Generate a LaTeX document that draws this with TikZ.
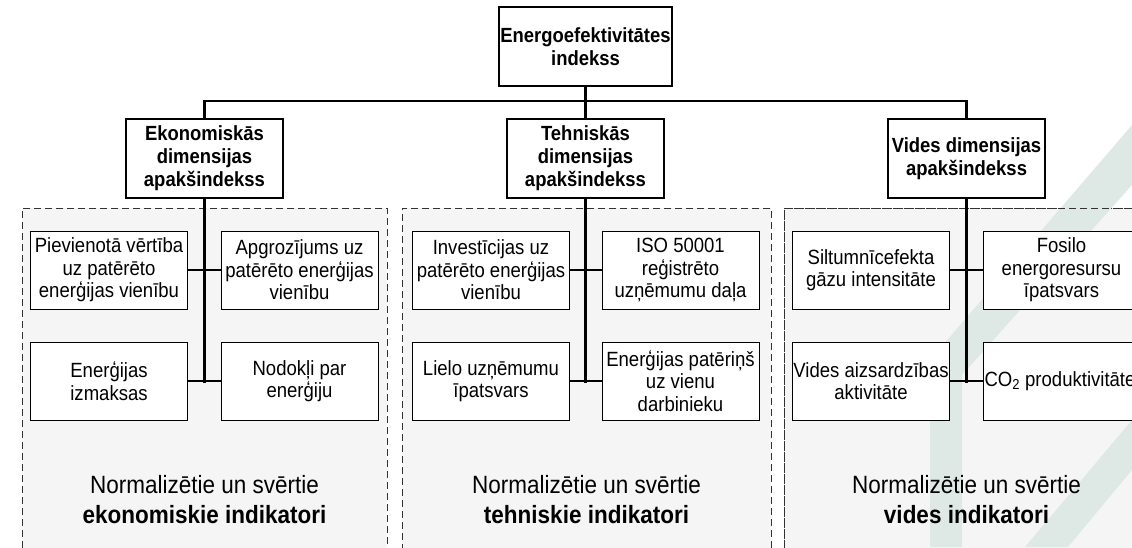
\documentclass[tikz,border=0pt]{standalone}
\usepackage{fontspec}
\setmainfont{Liberation Sans}[FakeStretch=0.9]
\definecolor{grpfill}{RGB}{245,245,245}
\definecolor{wmark}{RGB}{222,233,230}
\definecolor{dashcol}{RGB}{50,50,50}
\begin{document}
\begin{tikzpicture}[x=1pt,y=-1pt,
  hdr/.style={draw, line width=1.2pt, fill=white, minimum width=157pt, minimum height=79pt,
    align=center, inner sep=0pt, font=\fontsize{20.5}{23}\selectfont\bfseries},
  leaf/.style={draw, line width=0.9pt, fill=white, minimum width=157pt, minimum height=78pt,
    text width=157pt, align=flush center, inner sep=0pt, font=\fontsize{20.6}{22.5}\selectfont},
  grp/.style={draw=dashcol, line width=0.9pt, dash pattern=on 7pt off 4pt, fill=grpfill,
    inner sep=0pt, anchor=north west},
  caption/.style={align=center, inner sep=0pt, font=\fontsize{25}{30}\selectfont},
  vconn/.style={line width=3pt, line cap=rect},
  hconn/.style={line width=2.2pt},
  bus/.style={line width=2.8pt}]
\useasboundingbox (0,0) rectangle (1132,547);
\clip (0,0) rectangle (1132,547);
\fill[white] (0,0) rectangle (1132,547);

% groups
\node[grp, minimum width=365pt, minimum height=345pt] (g1) at (22,208) {};
\node[grp, minimum width=369pt, minimum height=345pt] (g2) at (402,208) {};
\node[grp, minimum width=360pt, minimum height=345pt] (g3) at (784,208) {};

% watermark
\fill[wmark] (1132,125) -- (1132,185) -- (962,375) -- (962,547) -- (930,547) -- (930,360) -- cycle;
\fill[wmark] (1132,420) -- (1132,470) -- (1068,547) -- (1025,547) -- cycle;
\draw[dashcol, line width=0.9pt, dash pattern=on 7pt off 4pt] (784,550) -- (784,208) -- (1140,208);

% top and headers
\node[hdr, minimum width=173pt] (top) at (585.5,46.5) {Energoefektivitātes\\indekss};
\node[hdr] (eko) at (204.5,158.5) {Ekonomiskās\\dimensijas\\apakšindekss};
\node[hdr] (teh) at (585.5,158.5) {Tehniskās\\dimensijas\\apakšindekss};
\node[hdr] (vid) at (966.5,158.5) {Vides dimensijas\\apakšindekss};

% leaves group 1
\node[leaf] (e1) at (109,270) {Pievienotā vērtība\\uz patērēto\\enerģijas vienību};
\node[leaf] (e2) at (299.5,270) {Apgrozījums uz\\patērēto enerģijas\\vienību};
\node[leaf] (e3) at (109,381) {Enerģijas\\izmaksas};
\node[leaf] (e4) at (299.5,381) {Nodokļi par\\enerģiju};
% leaves group 2
\node[leaf] (t1) at (491,270) {Investīcijas uz\\patērēto enerģijas\\vienību};
\node[leaf] (t2) at (680.5,270) {ISO 50001\\reģistrēto\\uzņēmumu daļa};
\node[leaf] (t3) at (491,381) {Lielo uzņēmumu\\īpatsvars};
\node[leaf] (t4) at (680.5,381) {Enerģijas patēriņš\\uz vienu\\darbinieku};
% leaves group 3
\node[leaf] (v1) at (871,270) {Siltumnīcefekta\\gāzu intensitāte};
\node[leaf] (v2) at (1061.5,270) {Fosilo\\energoresursu\\īpatsvars};
\node[leaf] (v3) at (871,381) {Vides aizsardzības\\aktivitāte};
\node[leaf, align=flush left] (v4) at (1061.5,381) {\hspace*{1.5pt}CO\textsubscript{2} produktivitāte};

% captions
\node[caption] (c1) at (204.5,500) {Normalizētie un svērtie\\\textbf{ekonomiskie indikatori}};
\node[caption] (c2) at (586.5,500) {Normalizētie un svērtie\\\textbf{tehniskie indikatori}};
\node[caption] (c3) at (966.5,500) {Normalizētie un svērtie\\\textbf{vides indikatori}};

% connectors
\coordinate (busy) at (0,101);
\draw[bus] (top.south) -- (top.south |- busy);
\draw[bus] (eko.north) -- (eko.north |- busy) -- (vid.north |- busy) -- (vid.north);
\draw[bus] (teh.north) -- (teh.north |- busy);

\draw[vconn] (eko.south) -- (eko.south |- e3.east);
\draw[hconn] (e1.east) -- (e2.west);
\draw[hconn] (e3.east) -- (e4.west);
\draw[vconn] (teh.south) -- (teh.south |- t3.east);
\draw[hconn] (t1.east) -- (t2.west);
\draw[hconn] (t3.east) -- (t4.west);
\draw[vconn] (vid.south) -- (vid.south |- v3.east);
\draw[hconn] (v1.east) -- (v2.west);
\draw[hconn] (v3.east) -- (v4.west);
\end{tikzpicture}
\end{document}
